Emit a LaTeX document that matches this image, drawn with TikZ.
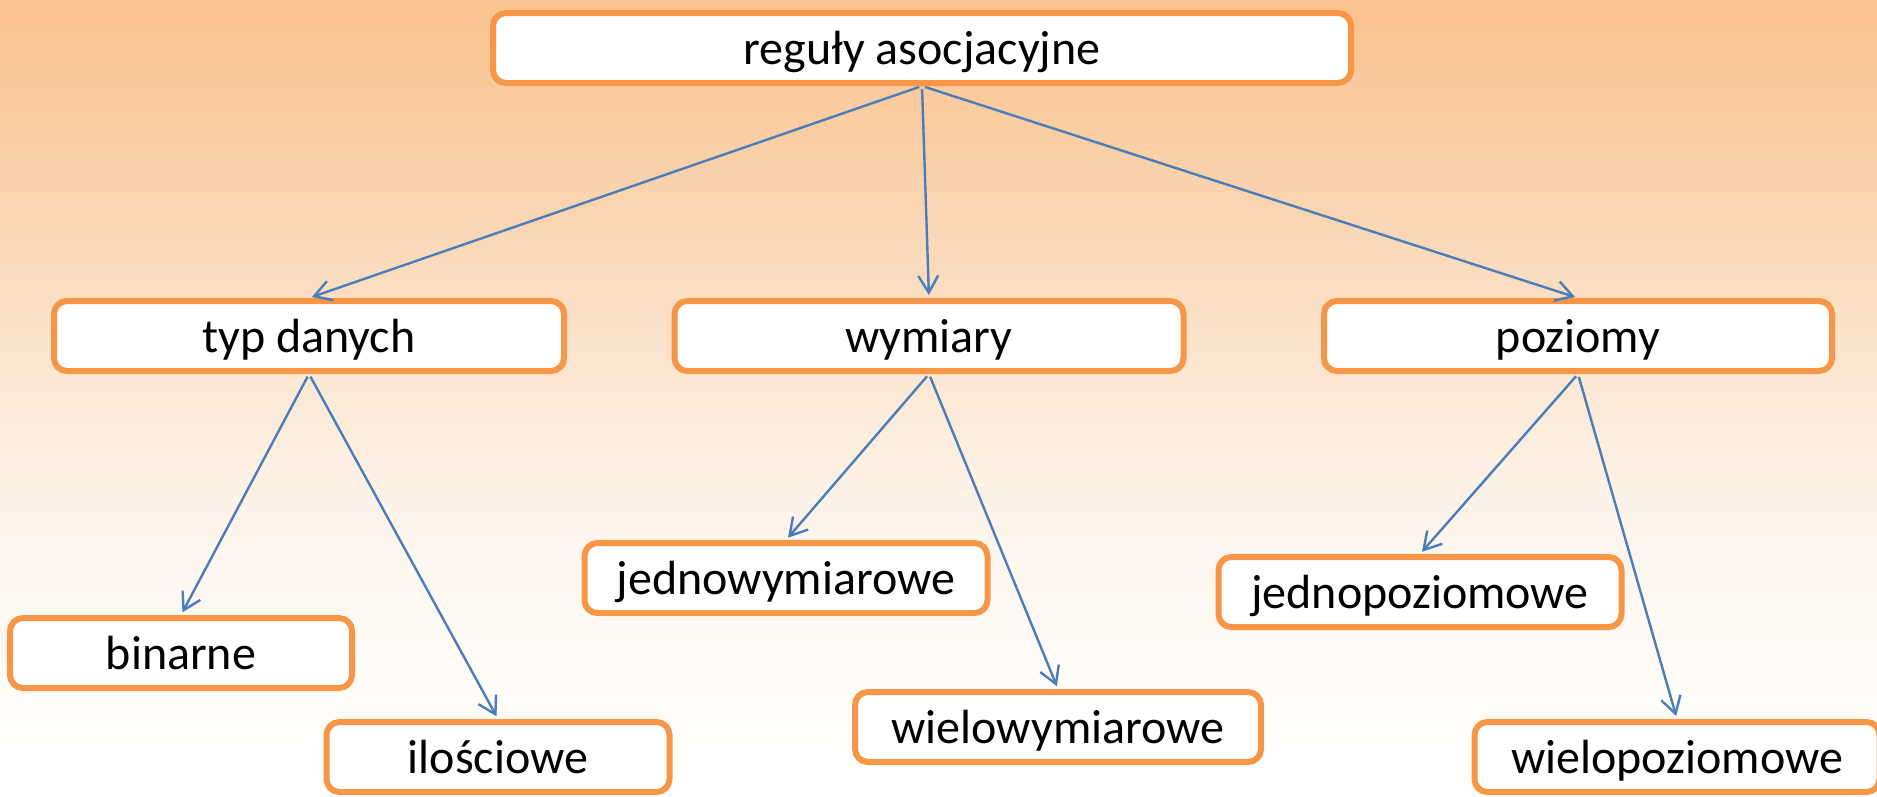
\documentclass[tikz,border=0pt]{standalone}
\usepackage{fontspec}
\setmainfont{Carlito}
\usetikzlibrary{arrows.meta}
\definecolor{boxorange}{HTML}{F79646}
\definecolor{arrowblue}{HTML}{4A7EBB}
\definecolor{bgA}{HTML}{F9C28E}
\definecolor{bgB}{HTML}{FAD4B0}
\definecolor{bgC}{HTML}{FCEAD8}
\definecolor{bgD}{HTML}{FEF6EE}
\definecolor{bgE}{HTML}{FFFCF9}
\definecolor{bgF}{HTML}{FFFEFD}
\pgfdeclareverticalshading{bgshade}{100bp}{color(0bp)=(bgF); color(25bp)=(bgF); color(31bp)=(bgE); color(40.5bp)=(bgD); color(49.9bp)=(bgC); color(62.4bp)=(bgB); color(75bp)=(bgA); color(100bp)=(bgA)}
\begin{document}
\begin{tikzpicture}[x=1pt,y=-1pt,
  box/.style={draw=boxorange, line width=6pt, fill=white, rounded corners=13pt,
    inner sep=0pt, minimum height=70pt, font=\fontsize{48}{58}\selectfont,
    text height=42pt, text depth=10pt},
  conn/.style={draw=arrowblue, line width=2.4pt, shorten >=3pt, shorten <=3pt,
    -{Straight Barb[length=17pt,width=20pt,line width=2.4pt]}}]
\useasboundingbox (0,0) rectangle (1877,796);
\clip (0,0) rectangle (1877,796);
\shade[shading=bgshade] (0,0) rectangle (1877,796);
\node[box, minimum width=858pt] (top) at (922,48) {reguły asocjacyjne};
\node[box, minimum width=510pt] (typ) at (309,336) {typ danych};
\node[box, minimum width=509pt] (wym) at (929,336) {wymiary};
\node[box, minimum width=508pt] (poz) at (1578,336) {poziomy};
\node[box, minimum width=342pt] (bin) at (181,653) {binarne};
\node[box, minimum width=343pt] (ilo) at (498,757) {ilościowe};
\node[box, minimum width=403pt] (jw) at (786,578) {jednowymiarowe};
\node[box, minimum width=406pt] (ww) at (1058,727) {wielowymiarowe};
\node[box, minimum width=403pt] (jp) at (1420,592) {jednopoziomowe};
\node[box, minimum width=405pt] (wp) at (1677,757) {wielopoziomowe};
\draw[conn] (top.south) -- (typ.north);
\draw[conn] (top.south) -- (wym.north);
\draw[conn] (top.south) -- (poz.north);
\draw[conn] (typ.south) -- (bin.north);
\draw[conn] (typ.south) -- (ilo.north);
\draw[conn] (wym.south) -- (jw.north);
\draw[conn] (wym.south) -- (ww.north);
\draw[conn] (poz.south) -- (jp.north);
\draw[conn] (poz.south) -- (wp.north);
\end{tikzpicture}
\end{document}
